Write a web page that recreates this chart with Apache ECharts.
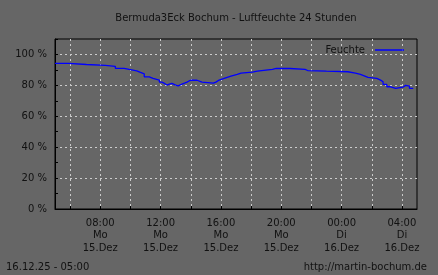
<!DOCTYPE html>
<html><head><meta charset="utf-8">
<script src="https://cdn.jsdelivr.net/npm/echarts@6/dist/echarts.min.js"></script>
<style>html,body{margin:0;padding:0;background:#666;}#c{width:438px;height:275px;}</style>
</head><body><div id="c"></div>
<script>
// Times (Mo 15.Dez 05:00 .. Di 16.Dez 05:00), times before 05:00 belong to the next day
const times = ["05:00","05:55","07:05","08:20","09:00","09:35","09:55","10:25","10:40","10:55","11:15","11:30","11:55","12:05","12:15","12:25","12:35","12:45","12:50","13:00","13:10","13:15","13:25","13:35","13:45","13:55","14:05","14:10","14:25","14:45","15:30","15:40","15:50","16:10","16:25","16:40","17:05","17:20","18:05","18:25","19:25","19:40","20:35","21:35","21:45","23:00","00:25","00:55","01:15","01:30","01:45","02:20","02:35","02:45","03:00","03:15","03:35","04:05","04:10","04:15","04:30","04:45"];
const humidity = [94.2,93.5,92.9,92.3,91.0,90.3,89.4,88.4,87.5,85.5,84.5,83.4,82.1,81.3,80.2,80.8,81.3,80.8,80.2,79.7,80.2,80.8,81.4,82.1,83.0,83.4,82.4,83.3,82.1,81.4,82.1,83.2,84.3,85.2,86.0,87.1,87.9,88.6,89.2,90.3,91.0,90.9,90.3,89.6,89.2,88.8,87.9,87.1,86.2,85.2,84.5,83.4,82.3,80.6,79.1,78.1,78.9,79.5,80.0,79.5,78.1,78.1];
const seriesName = "Feuchte";
const titleText = "Bermuda3Eck Bochum - Luftfeuchte 24 Stunden";
const footerLeft = "16.12.25 - 05:00";
const footerRight = "http://martin-bochum.de";
const dayNames = ["Mo","Di"];
const dayDates = ["15.Dez","16.Dez"];
const yTicks = [0,20,40,60,80,100];

function toHours(t){ const [h,m]=t.split(":").map(Number); let v=h+m/60; if(v<5) v+=24; return v; }
const data = times.map((t,i)=>[toHours(t), humidity[i]]);

const FONT = "DejaVu Sans";
const FS = 10;
const FONTSTR = FS + 'px "DejaVu Sans"';
const TXT = "#111";
const chart = echarts.init(document.getElementById('c'), null, {renderer:'canvas'});
chart.setOption({
  backgroundColor: '#666',
  animation: false,
  textStyle: {fontFamily: FONT},
  grid: {left:55, right:21, top:39, bottom:66, show:true, borderColor:'#000', borderWidth:1, backgroundColor:'transparent'},
  legend: {
    data:[{name:seriesName, icon:'rect'}], right:34, top:45, padding:0, itemWidth:29, itemHeight:1.5, align:'right',
    textStyle:{color:TXT, fontSize:FS, fontFamily:FONT, padding:[0,5,0,0]}
  },
  graphic: [
    {type:'text', x:236, y:18, style:{text:titleText, fill:TXT, font:FONTSTR, align:'center', verticalAlign:'middle'}},
    {type:'text', x:6, y:267, style:{text:footerLeft, fill:TXT, font:FONTSTR, align:'left', verticalAlign:'middle'}},
    {type:'text', x:427, y:267, style:{text:footerRight, fill:TXT, font:FONTSTR, align:'right', verticalAlign:'middle'}}
  ],
  xAxis: {
    type:'value', min:5, max:29, splitNumber:12, minInterval:2, maxInterval:2,
    axisLine:{show:true, lineStyle:{color:'#000'}},
    axisTick:{show:true, inside:true, length:3, lineStyle:{color:'#000'}},
    splitLine:{show:true, showMinLine:false, showMaxLine:false, lineStyle:{color:'#ccc', type:[2,3], width:1}},
    axisLabel:{
      color:TXT, fontSize:FS, fontFamily:FONT, lineHeight:12.5, margin:8, showMinLabel:false, showMaxLabel:false,
      formatter: v => {
        if (v <= 5 || v >= 29 || v % 4 !== 0) return '';
        const d = v >= 24 ? 1 : 0; const h = v % 24;
        return (h<10?'0':'') + h + ':00\n' + dayNames[d] + '\n' + dayDates[d];
      }
    }
  },
  yAxis: [{
    type:'value', min:0, max:110, interval:20,
    axisLine:{show:true, lineStyle:{color:'#000'}},
    axisTick:{show:true, inside:true, length:3, lineStyle:{color:'#000'}},
    splitLine:{show:true, showMinLine:false, showMaxLine:false, lineStyle:{color:'#ccc', type:[2,3], width:1}},
    axisLabel:{color:TXT, fontSize:FS, fontFamily:FONT, margin:8,
      formatter: v => yTicks.includes(v) ? v + ' %' : ''}
  },{
    type:'value', min:0, max:110, interval:10, position:'left',
    axisLine:{show:false}, axisLabel:{show:false}, splitLine:{show:false},
    axisTick:{show:true, inside:true, length:3, lineStyle:{color:'#000'}}
  }],
  series: [{
    name: seriesName, type:'line', step:'end', symbol:'none', data,
    lineStyle:{color:'#0000ff', width:1.3}, itemStyle:{color:'#0000ff'}
  }]
});
</script></body></html>
